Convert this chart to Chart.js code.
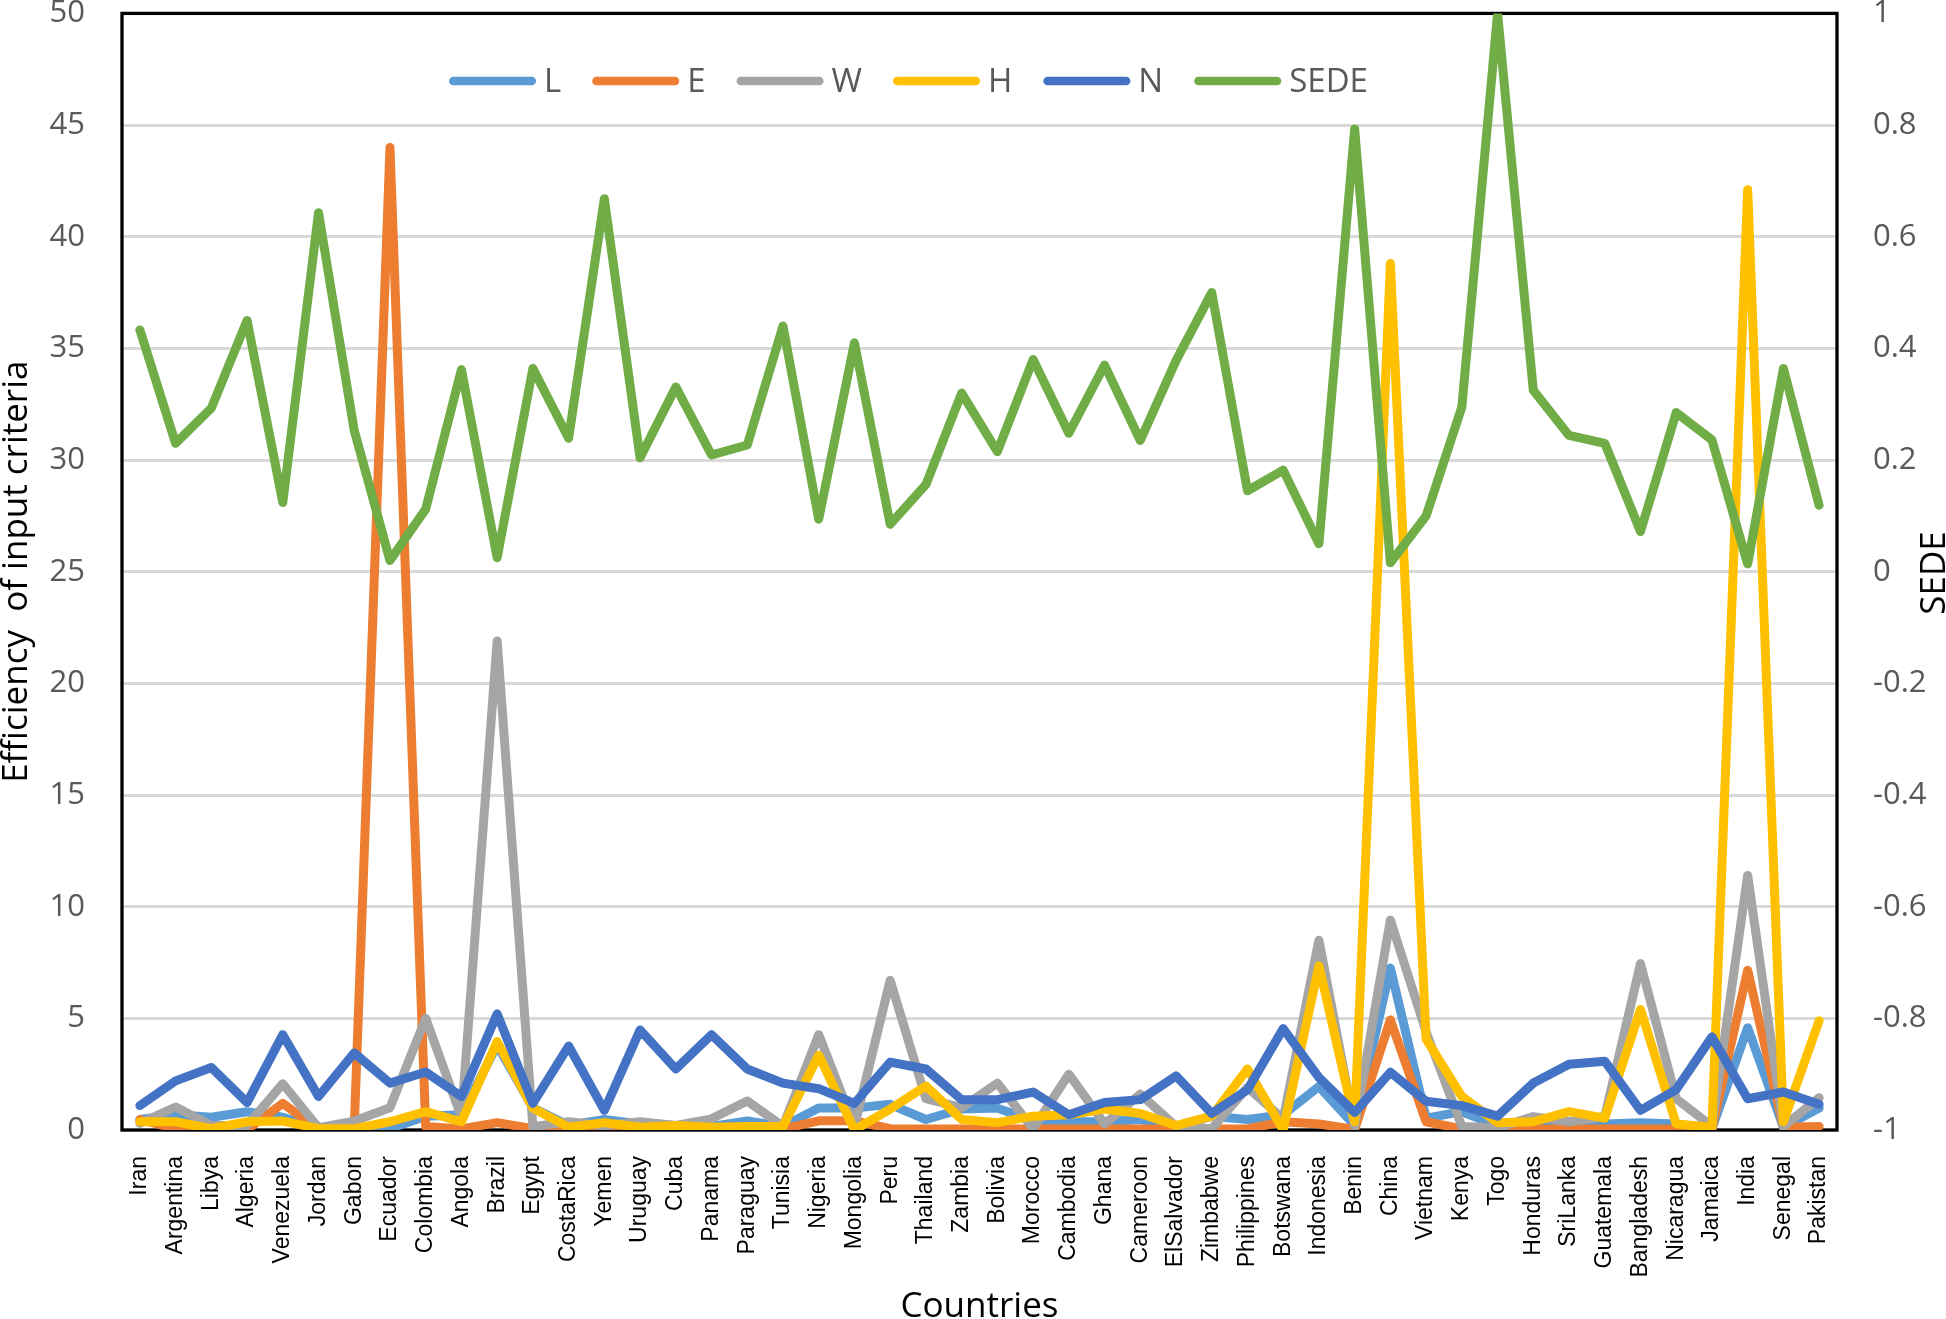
<!DOCTYPE html>
<html>
<head>
<meta charset="utf-8">
<title>Efficiency of input criteria and SEDE by country</title>
<script src="https://cdn.jsdelivr.net/npm/chart.js@4.4.1/dist/chart.umd.min.js"></script>
<style>
  html, body { margin: 0; padding: 0; background: #fff; }
  canvas { display: block; }
</style>
</head>
<body>
<canvas class="chart" width="1946" height="1319"></canvas>
<script>
const countries = ['Iran', 'Argentina', 'Libya', 'Algeria', 'Venezuela', 'Jordan', 'Gabon', 'Ecuador',
    'Colombia', 'Angola', 'Brazil', 'Egypt', 'CostaRica', 'Yemen', 'Uruguay', 'Cuba', 'Panama',
    'Paraguay', 'Tunisia', 'Nigeria', 'Mongolia', 'Peru', 'Thailand', 'Zambia', 'Bolivia', 'Morocco',
    'Cambodia', 'Ghana', 'Cameroon', 'ElSalvador', 'Zimbabwe', 'Philippines', 'Botswana', 'Indonesia',
    'Benin', 'China', 'Vietnam', 'Kenya', 'Togo', 'Honduras', 'SriLanka', 'Guatemala', 'Bangladesh',
    'Nicaragua', 'Jamaica', 'India', 'Senegal', 'Pakistan']

// input criteria (left axis)
const L = [0.47, 0.68, 0.57, 0.82, 0.57, 0.06, 0.06, 0.06, 0.62, 0.68, 3.8, 1.0, 0.2, 0.47, 0.27, 0.2,
    0.16, 0.41, 0.16, 0.98, 0.98, 1.15, 0.47, 0.94, 0.98, 0.41, 0.37, 0.37, 0.47, 0.12, 0.62, 0.47,
    0.68, 1.95, 0.2, 7.25, 0.53, 0.82, 0.2, 0.27, 0.27, 0.27, 0.33, 0.27, 0.06, 4.58, 0.12, 0.98]
const E = [0.47, 0.06, 0.02, 0.02, 1.19, 0.02, 0.1, 44.0, 0.16, 0.05, 0.33, 0.06, 0.05, 0.05, 0.05, 0.05,
    0.05, 0.05, 0.05, 0.41, 0.41, 0.06, 0.05, 0.05, 0.05, 0.05, 0.05, 0.05, 0.05, 0.05, 0.05, 0.05,
    0.37, 0.27, 0.02, 4.93, 0.37, 0.05, 0.05, 0.05, 0.05, 0.05, 0.05, 0.05, 0.05, 7.15, 0.12, 0.16]
const W = [0.3, 1.03, 0.2, 0.2, 2.07, 0.1, 0.4, 1.0, 5.0, 0.57, 21.9, 0.15, 0.37, 0.2, 0.37, 0.2,
    0.5, 1.3, 0.16, 4.27, 0.16, 6.7, 1.4, 1.0, 2.1, 0.06, 2.5, 0.27, 1.6, 0.16, 0.06, 1.9,
    0.5, 8.5, 0.16, 9.4, 4.4, 0.16, 0.1, 0.6, 0.37, 0.6, 7.45, 1.4, 0.16, 11.4, 0.16, 1.44]
const H = [0.37, 0.37, 0.06, 0.37, 0.4, 0.06, 0.06, 0.37, 0.82, 0.37, 3.96, 0.98, 0.12, 0.33, 0.12, 0.2,
    0.12, 0.16, 0.16, 3.35, 0.0, 0.94, 1.97, 0.47, 0.33, 0.62, 0.68, 0.94, 0.74, 0.2, 0.62, 2.73,
    0.0, 7.35, 0.37, 38.8, 4.07, 1.5, 0.33, 0.37, 0.82, 0.53, 5.4, 0.27, 0.12, 42.1, 0.37, 4.89]
const N = [1.09, 2.2, 2.8, 1.23, 4.27, 1.5, 3.45, 2.1, 2.6, 1.5, 5.2, 1.19, 3.76, 0.88, 4.48, 2.73,
    4.27, 2.73, 2.1, 1.85, 1.19, 3.04, 2.73, 1.36, 1.36, 1.7, 0.68, 1.23, 1.36, 2.42, 0.74, 1.8,
    4.54, 2.35, 0.78, 2.59, 1.29, 1.09, 0.62, 2.1, 2.94, 3.08, 0.88, 1.81, 4.17, 1.4, 1.7, 1.15]

// SEDE (right axis)
const SEDE = [0.433, 0.23, 0.293, 0.45, 0.124, 0.643, 0.253, 0.02, 0.112, 0.362, 0.025, 0.364, 0.239,
    0.668, 0.204, 0.331, 0.209, 0.227, 0.44, 0.094, 0.41, 0.085, 0.156, 0.32, 0.215, 0.38, 0.248,
    0.37, 0.235, 0.378, 0.5, 0.145, 0.182, 0.05, 0.793, 0.016, 0.1, 0.295, 1.0, 0.325, 0.244, 0.23,
    0.072, 0.285, 0.236, 0.014, 0.364, 0.119]

const leftTicks = [0, 5, 10, 15, 20, 25, 30, 35, 40, 45, 50]
const rightTicks = [-1, -0.8, -0.6, -0.4, -0.2, 0, 0.2, 0.4, 0.6, 0.8, 1]

Chart.defaults.font.family = "'Open Sans', sans-serif"

// black box round the plot, under the lines
const plotFrame = {
    id: 'plotFrame',
    beforeDatasetsDraw(chart) {
        const {ctx, chartArea: a} = chart
        ctx.save()
        ctx.strokeStyle = '#000'
        ctx.lineWidth = 3.3
        ctx.strokeRect(a.left, a.top, a.right - a.left, a.bottom - a.top)
        ctx.restore()
    }
}

// Excel-style legend sitting inside the plot, one row of line samples
const lineLegend = {
    id: 'lineLegend',
    afterDatasetsDraw(chart) {
        const ctx = chart.ctx
        const y = 81
        let x = 449
        ctx.save()
        ctx.font = "33px 'Open Sans'"
        ctx.textBaseline = 'alphabetic'
        ctx.textAlign = 'left'
        chart.data.datasets.forEach(ds => {
            ctx.strokeStyle = ds.borderColor
            ctx.lineWidth = 8.7
            ctx.lineCap = 'round'
            ctx.beginPath()
            ctx.moveTo(x + 4.3, y)
            ctx.lineTo(x + 82.7, y)
            ctx.stroke()
            ctx.fillStyle = '#595959'
            ctx.fillText(ds.label, x + 95, y + 11)
            x += 95 + ctx.measureText(ds.label).width + 31
        })
        ctx.restore()
    }
}

// right axis title reads upward like the left one
const rightTitle = {
    id: 'rightTitle',
    afterDraw(chart) {
        const ctx = chart.ctx
        ctx.save()
        ctx.translate(1945, 573)
        ctx.rotate(-Math.PI / 2)
        ctx.font = "35px 'Open Sans'"
        ctx.fillStyle = '#000'
        ctx.textAlign = 'center'
        ctx.textBaseline = 'alphabetic'
        ctx.fillText('SEDE', 0, 0)
        ctx.restore()
    }
}

function lineSet(label, data, color, axis, order) {
    return {
        label: label,
        data: data,
        borderColor: color,
        backgroundColor: color,
        borderWidth: 9,
        borderCapStyle: 'round',
        borderJoinStyle: 'round',
        pointRadius: 0,
        pointHoverRadius: 0,
        tension: 0,
        fill: false,
        yAxisID: axis,
        order: order
    }
}

// value axes: fixed width, and only half a label of room above the plot
function fitValueAxis(width) {
    return s => {
        s.width = width
        s.paddingTop = 13.4
        s.paddingBottom = 13.4
    }
}

renderChart()

function renderChart() {
    const c = document.getElementsByClassName('chart')[0]
    const ctx = c.getContext('2d')
    new Chart(ctx, {
        type: 'line',
        data: {
            labels: countries,
            datasets: [
                lineSet('L', L, '#5B9BD5', 'y', 6),
                lineSet('E', E, '#ED7D31', 'y', 5),
                lineSet('W', W, '#A5A5A5', 'y', 4),
                lineSet('H', H, '#FFC000', 'y', 3),
                lineSet('N', N, '#4472C4', 'y', 2),
                lineSet('SEDE', SEDE, '#70AD47', 'y2', 1)
            ]
        },
        options: {
            responsive: false,
            animation: false,
            devicePixelRatio: 1,
            layout: { padding: 0 },
            plugins: {
                legend: { display: false },
                tooltip: { enabled: false }
            },
            scales: {
                x: {
                    type: 'category',
                    offset: true,
                    grid: { display: false },
                    border: { display: false },
                    ticks: {
                        autoSkip: false,
                        minRotation: 90,
                        maxRotation: 90,
                        padding: 18,
                        color: '#000',
                        font: { family: "'Liberation Sans', Arial, sans-serif", size: 23 }
                    },
                    title: {
                        display: true,
                        text: 'Countries',
                        color: '#000',
                        font: { size: 35, lineHeight: 0.7 },
                        padding: 0
                    },
                    afterFit: s => { s.height = 189 }
                },
                y: {
                    position: 'left',
                    min: leftTicks[0],
                    max: leftTicks[leftTicks.length - 1],
                    afterBuildTicks: s => { s.ticks = leftTicks.map(v => ({ value: v })) },
                    grid: { color: '#D9D9D9', lineWidth: 3, drawTicks: false },
                    border: { display: false },
                    ticks: {
                        padding: 37,
                        color: '#595959',
                        font: { size: 31, lineHeight: 0.86 },
                        callback: v => String(v)
                    },
                    title: {
                        display: true,
                        text: 'Efficiency  of input criteria',
                        color: '#000',
                        font: { size: 35, lineHeight: 1 },
                        padding: 0
                    },
                    afterFit: fitValueAxis(122)
                },
                y2: {
                    position: 'right',
                    min: rightTicks[0],
                    max: rightTicks[rightTicks.length - 1],
                    afterBuildTicks: s => { s.ticks = rightTicks.map(v => ({ value: v })) },
                    grid: { display: false, drawTicks: false },
                    border: { display: false },
                    ticks: {
                        padding: 36,
                        color: '#595959',
                        font: { size: 31, lineHeight: 0.86 },
                        callback: v => String(Math.round(v * 10) / 10)
                    },
                    afterFit: fitValueAxis(109)
                }
            }
        },
        plugins: [plotFrame, lineLegend, rightTitle]
    })
}
</script>
</body>
</html>
